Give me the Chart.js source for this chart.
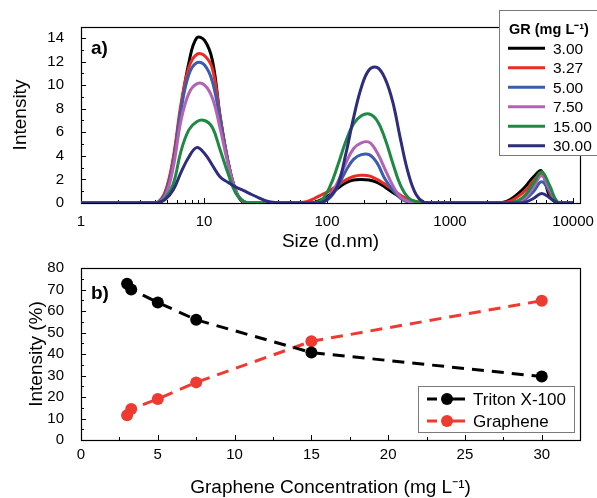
<!DOCTYPE html>
<html><head><meta charset="utf-8">
<script src="https://cdn.jsdelivr.net/npm/chart.js@4/dist/chart.umd.min.js"></script>
<style>
html,body{margin:0;padding:0;background:#fff;}
#wrap{position:relative;width:597px;height:498px;overflow:hidden;background:#fff;}
#c1{position:absolute;left:0;top:0;}
#c2{position:absolute;left:0;top:250px;}
</style></head><body>
<div id="wrap"><canvas id="c1" width="597" height="255"></canvas><canvas id="c2" width="597" height="248"></canvas></div>
<script>
// ---- Panel a) DLS size distributions ----
const sizes = [0.9649, 1.117, 1.294, 1.499, 1.736, 2.010, 2.328, 2.696, 3.122, 3.615,
  4.187, 4.849, 5.615, 6.503, 7.531, 8.721, 10.10, 11.70, 13.54, 15.69, 18.17, 21.04, 24.36, 28.21, 32.67, 37.84,
  43.82, 50.75, 58.77, 68.06, 78.82, 91.28, 105.7, 122.4, 141.8, 164.2, 190.1, 220.2, 255.0, 295.3, 342.0, 396.1, 458.7, 531.2, 615.1, 712.4,
  825.0, 955.4, 1106, 1281, 1484, 1718, 1990,
  2305, 2669, 3091, 3580, 4145, 4801, 5560, 6439, 7456, 8635, 10000];

const gr300 = [0,0,0,0,0,0,0,0,0,0,
  0.02,0.8,3.6,8.1,11.9,14.0,13.8,12.1,7.3,3.5,1.0,0,0,0,0,0,
  0,0,0,0,0.05,0.3,0.7,1.25,1.7,1.95,2.0,1.95,1.75,1.35,0.9,0.5,0.25,0.08,0,0,
  0,0,0,0,0,0,0,
  0,0.05,0.3,0.8,1.45,2.25,2.7,0.6,0,0,0];
const gr327 = [0,0,0,0,0,0,0,0,0,0,
  0.05,1.0,3.8,8.4,11.5,12.6,12.5,11.4,7.3,3.5,1.0,0.05,0,0,0,0,
  0,0,0.02,0.12,0.38,0.72,1.05,1.5,1.95,2.25,2.35,2.3,2.0,1.6,1.15,0.65,0.3,0.1,0.02,0,
  0,0,0,0,0,0,0,
  0,0.02,0.15,0.55,1.1,1.9,2.5,0.9,0.05,0,0];
const gr500 = [0,0,0,0,0,0,0,0,0,0,
  0.03,0.8,3.4,7.9,10.9,11.9,11.7,10.3,7.0,3.5,1.0,0.1,0,0,0,0,
  0,0,0,0,0,0.05,0.45,1.4,2.7,3.7,4.1,4.1,3.4,2.05,1.1,0.4,0.08,0,0,0,
  0,0,0,0,0,0,0,
  0,0,0,0.05,0.35,1.0,1.8,1.0,0.05,0,0];
const gr750 = [0,0,0,0,0,0,0,0,0,0,
  0.02,0.6,3.0,7.0,9.3,10.1,10.0,8.9,6.3,3.3,1.0,0.1,0,0,0,0,
  0,0,0,0,0,0.1,0.6,1.8,3.35,4.6,5.1,5.15,4.3,2.9,1.5,0.5,0.15,0.03,0,0,
  0,0,0,0,0,0,0,
  0,0,0,0.1,0.5,1.4,2.3,1.2,0.05,0,0];
const gr1500 = [0,0,0,0,0,0,0,0,0,0,
  0.01,0.4,1.6,4.4,6.2,6.9,7.0,6.4,4.5,2.5,0.8,0.15,0,0,0,0,
  0,0,0,0,0.02,0.3,1.4,3.2,5.2,6.7,7.4,7.55,7.0,5.5,3.4,1.5,0.45,0.12,0.02,0,
  0,0,0,0,0,0,0,
  0,0,0.02,0.2,0.75,1.7,2.65,1.5,0.1,0,0];
const gr3000 = [0,0,0,0,0,0,0,0,0,0,
  0.01,0.3,1.1,2.6,3.9,4.7,4.2,3.2,2.2,1.75,1.35,1.05,0.72,0.42,0.15,0.03,
  0,0,0,0,0,0.05,0.55,1.5,4.1,7.2,9.8,11.3,11.5,10.6,8.6,5.4,2.5,0.7,0.05,0,
  0,0,0,0,0,0,0,
  0,0,0,0,0.1,0.4,0.8,0.45,0.02,0,0];

const grLabels = ['3.00', '3.27', '5.00', '7.50', '15.00', '30.00'];
const sizeTicks = [1, 10, 100, 1000, 10000];
const intensityTicks = [0, 2, 4, 6, 8, 10, 12, 14];

// ---- Panel b) ----
const concentration = [3.00, 3.27, 5.00, 7.50, 15.00, 30.00];
const triton = [72.7, 70.0, 64.0, 55.9, 40.7, 29.5];
const graphene = [11.5, 14.4, 19.1, 26.8, 45.9, 64.8];
const concTicks = [0, 5, 10, 15, 20, 25, 30];
const pctTicks = [0, 10, 20, 30, 40, 50, 60, 70, 80];

// ---- styles ----
const FONT = "'Liberation Sans', Arial, Helvetica, sans-serif";
Chart.defaults.font.family = FONT;
Chart.defaults.color = '#000';
const grColors = ['#000000', '#EE2A24', '#3A5DAE', '#B463B4', '#1C8A43', '#2E2C7C'];

function drawFrameTicks(chart, cfg) {
  const ctx = chart.ctx, a = chart.chartArea;
  const xs = chart.scales.x, ys = chart.scales.y;
  ctx.save();
  ctx.strokeStyle = '#000';
  ctx.lineWidth = 1;
  ctx.beginPath();
  cfg.xMajor.forEach(v => { const p = Math.round(xs.getPixelForValue(v)) + 0.5; ctx.moveTo(p, a.bottom); ctx.lineTo(p, a.bottom - 5); });
  cfg.xMinor.forEach(v => { const p = Math.round(xs.getPixelForValue(v)) + 0.5; ctx.moveTo(p, a.bottom); ctx.lineTo(p, a.bottom - 3); });
  cfg.yMajor.forEach(v => { const p = Math.round(ys.getPixelForValue(v)) + 0.5; ctx.moveTo(a.left, p); ctx.lineTo(a.left + 5, p); });
  cfg.yMinor.forEach(v => { const p = Math.round(ys.getPixelForValue(v)) + 0.5; ctx.moveTo(a.left, p); ctx.lineTo(a.left + 3, p); });
  ctx.stroke();
  ctx.lineWidth = 1.2;
  ctx.strokeRect(a.left + 0.5, a.top + 0.5, a.right - a.left, a.bottom - a.top);
  ctx.restore();
}

const topXMinor = [];
[1, 10, 100, 1000].forEach(d => { for (let m = 2; m <= 9; m++) topXMinor.push(m * d); });

const topPlugin = {
  id: 'topDecor',
  beforeDatasetsDraw(chart) {
    drawFrameTicks(chart, { xMajor: sizeTicks, xMinor: topXMinor, yMajor: intensityTicks, yMinor: [1,3,5,7,9,11,13] });
  },
  afterDraw(chart) {
    const ctx = chart.ctx;
    ctx.save();
    ctx.font = 'bold 19px ' + FONT;
    ctx.fillStyle = '#000';
    ctx.textBaseline = 'middle';
    ctx.textAlign = 'left';
    ctx.fillText('a)', 91, 48.5);
    ctx.fillStyle = '#fff';
    ctx.fillRect(499, 10, 110, 145);
    ctx.strokeStyle = '#7a7a7a';
    ctx.lineWidth = 1;
    ctx.strokeRect(499.5, 10.5, 110, 145);
    ctx.fillStyle = '#000';
    ctx.font = 'bold 14.5px ' + FONT;
    ctx.fillText('GR (mg L\u207B\u00B9)', 509, 30);
    ctx.font = '15.5px ' + FONT;
    chart.data.datasets.forEach((ds, i) => {
      const y = 48.3 + i * 19.5;
      ctx.strokeStyle = ds.borderColor;
      ctx.lineWidth = 3;
      ctx.beginPath(); ctx.moveTo(508, y); ctx.lineTo(545, y); ctx.stroke();
      ctx.fillStyle = '#000';
      ctx.fillText(ds.label, 553, y + 1);
    });
    ctx.restore();
  }
};

const topSeries = [gr300, gr327, gr500, gr750, gr1500, gr3000];
new Chart(document.getElementById('c1'), {
  type: 'line',
  data: {
    datasets: topSeries.map((arr, i) => ({
      label: grLabels[i],
      data: arr.map((v, j) => ({ x: sizes[j], y: v })),
      borderColor: grColors[i],
      backgroundColor: grColors[i],
      borderWidth: 3,
      pointRadius: 0,
      fill: false,
      tension: 0.4,
      order: 6 - i
    }))
  },
  options: {
    responsive: false,
    animation: false,
    events: [],
    layout: { padding: { left: 0, right: 17, top: 27, bottom: 0 } },
    plugins: { legend: { display: false }, tooltip: { enabled: false } },
    scales: {
      x: {
        type: 'logarithmic', min: 1, max: 11400,
        afterBuildTicks: s => { s.ticks = sizeTicks.map(v => ({ value: v })); },
        afterFit: s => { s.height = 52; },
        ticks: { callback: v => String(v), font: { size: 15 }, padding: 2, maxRotation: 0, autoSkip: false, color: '#000' },
        grid: { display: false },
        border: { display: false },
        title: { display: true, text: 'Size (d.nm)', font: { size: 19, lineHeight: 1 }, padding: { top: 0, bottom: 3.5 }, color: '#000' }
      },
      y: {
        min: 0, max: 14.93,
        afterBuildTicks: s => { s.ticks = intensityTicks.map(v => ({ value: v })); },
        afterFit: s => { s.width = 81; },
        ticks: { font: { size: 15 }, padding: 9, color: '#000' },
        grid: { display: false },
        border: { display: false },
        title: { display: true, text: 'Intensity', font: { size: 19, lineHeight: 1 }, padding: { top: 11.5, bottom: 0 }, color: '#000' }
      }
    }
  },
  plugins: [topPlugin]
});

const botColors = ['#000000', '#EE3A30'];
const botLabels = ['Triton X-100', 'Graphene'];
const botPlugin = {
  id: 'botDecor',
  beforeDatasetsDraw(chart) {
    drawFrameTicks(chart, { xMajor: concTicks, xMinor: [2.5,7.5,12.5,17.5,22.5,27.5], yMajor: pctTicks, yMinor: [5,15,25,35,45,55,65,75] });
  },
  afterDraw(chart) {
    const ctx = chart.ctx;
    ctx.save();
    ctx.font = 'bold 19px ' + FONT;
    ctx.fillStyle = '#000';
    ctx.textBaseline = 'middle';
    ctx.textAlign = 'left';
    ctx.fillText('b)', 91, 43.5);
    ctx.fillStyle = '#fff';
    ctx.fillRect(418, 136, 156, 46);
    ctx.strokeStyle = '#7a7a7a';
    ctx.lineWidth = 1;
    ctx.strokeRect(418.5, 136.5, 156, 46);
    ctx.font = '17px ' + FONT;
    botLabels.forEach((lab, i) => {
      const y = 149 + i * 22;
      const c = botColors[i];
      ctx.strokeStyle = c; ctx.fillStyle = c; ctx.lineWidth = 3;
      ctx.beginPath(); ctx.moveTo(427, y); ctx.lineTo(437, y); ctx.moveTo(442, y); ctx.lineTo(465, y); ctx.stroke();
      ctx.beginPath(); ctx.arc(447, y, 6, 0, Math.PI * 2); ctx.fill();
      ctx.fillStyle = '#000';
      ctx.fillText(lab, 473, y + 1);
    });
    ctx.restore();
  }
};

new Chart(document.getElementById('c2'), {
  type: 'line',
  data: {
    datasets: [triton, graphene].map((arr, i) => ({
      label: botLabels[i],
      data: arr.map((v, j) => ({ x: concentration[j], y: v })),
      borderColor: botColors[i],
      backgroundColor: botColors[i],
      borderWidth: 3,
      borderDash: [12, 8],
      pointRadius: 6,
      pointBorderWidth: 0,
      pointBackgroundColor: botColors[i],
      tension: 0,
      fill: false
    }))
  },
  options: {
    responsive: false,
    animation: false,
    events: [],
    layout: { padding: { left: 0, right: 17, top: 11, bottom: 0 } },
    plugins: { legend: { display: false }, tooltip: { enabled: false } },
    scales: {
      x: {
        type: 'linear', min: 0, max: 32.49,
        afterBuildTicks: s => { s.ticks = concTicks.map(v => ({ value: v })); },
        afterFit: s => { s.height = 58; },
        ticks: { font: { size: 15 }, padding: -2, maxRotation: 0, autoSkip: false, color: '#000' },
        grid: { display: false },
        border: { display: false },
        title: { display: true, text: 'Graphene Concentration (mg L\u207B\u00B9)', font: { size: 19, lineHeight: 1 }, padding: { top: 0, bottom: 0.5 }, color: '#000' }
      },
      y: {
        min: 0, max: 80,
        afterBuildTicks: s => { s.ticks = pctTicks.map(v => ({ value: v })); },
        afterFit: s => { s.width = 81; },
        ticks: { font: { size: 15 }, padding: 9, color: '#000' },
        grid: { display: false },
        border: { display: false },
        title: { display: true, text: 'Intensity (%)', font: { size: 19, lineHeight: 1 }, padding: { top: 27, bottom: 0 }, color: '#000' }
      }
    }
  },
  plugins: [botPlugin]
});
</script>
</body></html>
